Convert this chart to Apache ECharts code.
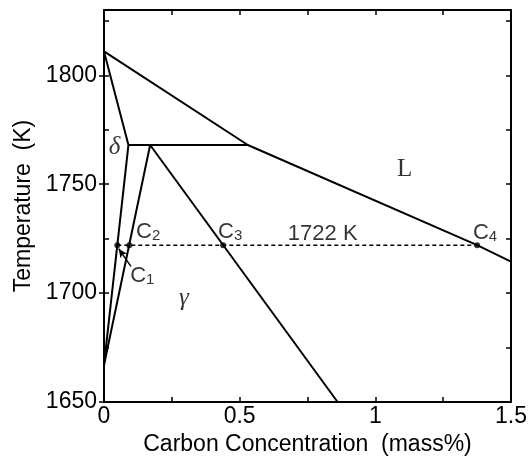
<!DOCTYPE html>
<html><head><meta charset="utf-8">
<script src="https://cdn.jsdelivr.net/npm/echarts@6/dist/echarts.min.js"></script>
<style>html,body{margin:0;padding:0;background:#fff}#c{width:530px;height:465px}</style>
</head><body><div id="c"></div>
<script>
// ---- Data (carbon mass%, temperature K) ----
const liquidus        = [[0, 1811], [0.53, 1768], [1.375, 1722], [1.5, 1714.5]];
const deltaSolidus    = [[0, 1811], [0.09, 1768]];
const peritectic      = [[0.09, 1768], [0.53, 1768]];
const deltaBoundary   = [[0.09, 1768], [0, 1667]];
const gammaBoundary   = [[0.17, 1768], [0, 1667]];
const gammaSolidus    = [[0.17, 1768], [0.861, 1650]];
const isotherm        = [[0.049, 1722], [1.375, 1722]];
const pointNames      = ['C1', 'C2', 'C3', 'C4'];
const pointX          = [0.049, 0.093, 0.439, 1.375];
const pointT          = [1722, 1722, 1722, 1722];
const phaseNames      = ['δ', 'L', 'γ'];
const phaseX          = [0.039, 1.108, 0.295];
const phaseT          = [1767, 1757, 1697.5];
const isothermText    = '1722 K';
const xTickLabels     = [0, 0.5, 1, 1.5];
const yTickLabels     = [1650, 1700, 1750, 1800];

// ---- Styling ----
const SANS = 'Liberation Sans';
const SERIF = 'Liberation Serif';
const labelOffsets = {C1: [25, 31], C2: [19, -13], C3: [7, -13], C4: [8, -12]};

const lineSeries = (data, extra) => Object.assign({
  type: 'line', data, showSymbol: false, symbol: 'none', silent: true,
  lineStyle: {color: '#000', width: 2}, z: 3, animation: false,
  xAxisIndex: 0, yAxisIndex: 0
}, extra || {});

const baseTick = {show: true, inside: true, length: 5, lineStyle: {color: '#000', width: 1.5}};
const axisLine = {show: true, onZero: false, lineStyle: {color: '#000', width: 2}};

const chart = echarts.init(document.getElementById('c'), null, {renderer: 'canvas'});
chart.setOption({
  animation: false,
  backgroundColor: '#fff',
  grid: {left: 104, right: 16, top: 10, bottom: 63, containLabel: false},
  xAxis: [
    {type: 'value', min: 0, max: 1.5, interval: 0.25, position: 'bottom',
     axisLine, axisTick: baseTick, splitLine: {show: false},
     axisLabel: {color: '#000', fontSize: 23, fontFamily: SANS, margin: 3,
       formatter: v => xTickLabels.some(t => Math.abs(t - v) < 1e-9) ? String(v) : ''},
     name: 'Carbon Concentration  (mass%)', nameLocation: 'middle', nameGap: 26,
     nameTextStyle: {color: '#000', fontSize: 23, fontFamily: SANS}},
    {type: 'value', min: 0, max: 1.5, interval: 0.25, position: 'top',
     axisLine, axisTick: baseTick, axisLabel: {show: false}, splitLine: {show: false}}
  ],
  yAxis: [
    {type: 'value', min: 1650, max: 1830, interval: 25, position: 'left',
     axisLine, axisTick: baseTick, splitLine: {show: false},
     axisLabel: {color: '#000', fontSize: 23, fontFamily: SANS, margin: 7,
       formatter: v => yTickLabels.includes(v) ? String(v) : ''},
     name: 'Temperature  (K)', nameLocation: 'middle', nameGap: 69,
     nameTextStyle: {color: '#000', fontSize: 23, fontFamily: SANS}},
    {type: 'value', min: 1650, max: 1830, interval: 25, position: 'right',
     axisLine, axisTick: baseTick, axisLabel: {show: false}, splitLine: {show: false}},
    {type: 'value', min: 1650, max: 1830, interval: 50, position: 'left',
     axisLine: {show: false}, axisLabel: {show: false}, splitLine: {show: false},
     axisTick: {show: true, inside: false, length: 5, customValues: yTickLabels,
       lineStyle: {color: '#000', width: 1.5}}}
  ],
  series: [
    lineSeries(liquidus),
    lineSeries(deltaSolidus),
    lineSeries(peritectic),
    lineSeries(deltaBoundary),
    lineSeries(gammaBoundary),
    lineSeries(gammaSolidus),
    lineSeries(isotherm, {lineStyle: {color: '#000', width: 1.6, type: [4, 3]}, z: 2}),
    {
      type: 'scatter', symbol: 'circle', symbolSize: 6, itemStyle: {color: '#000'}, z: 5,
      silent: true,
      data: pointNames.map((n, i) => ({
        name: n, value: [pointX[i], pointT[i]],
        label: {show: true, position: 'inside', offset: labelOffsets[n],
          formatter: '{c|' + n[0] + '}{s|' + n.slice(1) + '}',
          rich: {
            c: {fontSize: 22, fontFamily: SANS, color: '#000', lineHeight: 22},
            s: {fontSize: 15, fontFamily: SANS, color: '#000', verticalAlign: 'bottom', lineHeight: 11}
          }}
      })),
      markLine: {
        silent: true, symbol: ['none', 'arrow'], symbolSize: [6, 9], animation: false,
        label: {show: false},
        lineStyle: {color: '#000', width: 1.5, type: 'solid'},
        data: [[{coord: [0.099, 1712.3]}, {coord: [0.054, 1720.4]}]]
      }
    },
    {
      type: 'scatter', symbolSize: 0, silent: true, z: 6,
      data: phaseNames.map((n, i) => ({name: n, value: [phaseX[i], phaseT[i]],
        label: {fontStyle: n === 'L' ? 'normal' : 'italic'}})),
      label: {show: true, position: 'inside', color: '#000', fontFamily: SERIF,
        fontSize: 25, formatter: p => p.name}
    },
    {
      type: 'scatter', symbolSize: 0, silent: true, z: 6,
      data: [{name: isothermText, value: [0.806, 1727]}],
      label: {show: true, position: 'inside', color: '#000', fontFamily: SANS,
        fontSize: 22, formatter: p => p.name}
    }
  ]
});
</script>
</body></html>
